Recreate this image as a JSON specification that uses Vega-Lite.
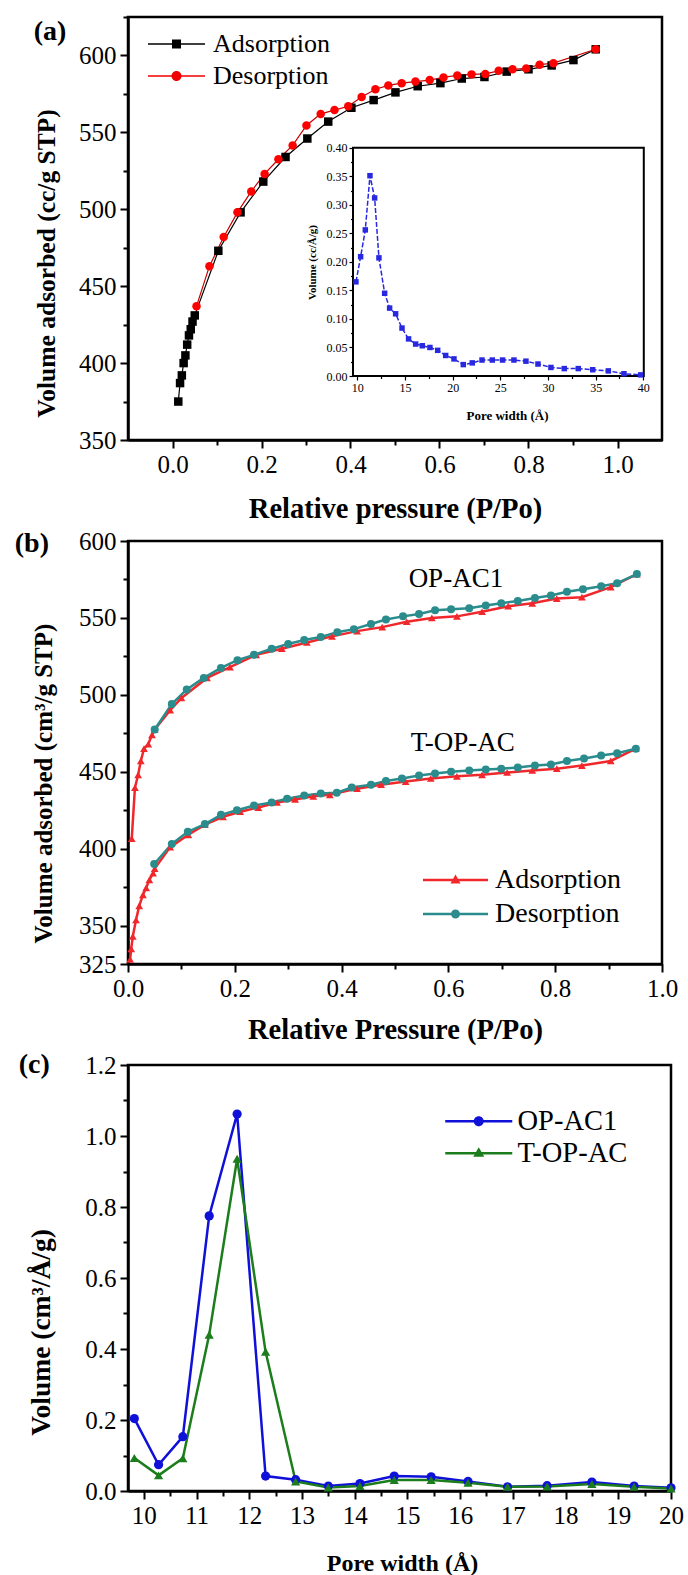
{
"$schema": "https://vega.github.io/schema/vega-lite/v6.json",
"background": "white",
"padding": {"left": 13, "top": 14, "right": 0, "bottom": 0},
"datasets": {
"iso_a": [
{"p":0.013,"v":375,"type":"Adsorption"},{"p":0.017,"v":387,"type":"Adsorption"},{"p":0.021,"v":392,"type":"Adsorption"},{"p":0.025,"v":400,"type":"Adsorption"},{"p":0.029,"v":405,"type":"Adsorption"},{"p":0.033,"v":412,"type":"Adsorption"},{"p":0.037,"v":418,"type":"Adsorption"},{"p":0.041,"v":422,"type":"Adsorption"},{"p":0.045,"v":427,"type":"Adsorption"},{"p":0.05,"v":431,"type":"Adsorption"},{"p":0.103,"v":473,"type":"Adsorption"},{"p":0.153,"v":498,"type":"Adsorption"},{"p":0.204,"v":518,"type":"Adsorption"},{"p":0.254,"v":534,"type":"Adsorption"},{"p":0.303,"v":546,"type":"Adsorption"},{"p":0.35,"v":557,"type":"Adsorption"},{"p":0.402,"v":566,"type":"Adsorption"},{"p":0.452,"v":571,"type":"Adsorption"},{"p":0.501,"v":576,"type":"Adsorption"},{"p":0.551,"v":580,"type":"Adsorption"},{"p":0.602,"v":582,"type":"Adsorption"},{"p":0.65,"v":585,"type":"Adsorption"},{"p":0.701,"v":586,"type":"Adsorption"},{"p":0.751,"v":589.5,"type":"Adsorption"},{"p":0.8,"v":591,"type":"Adsorption"},{"p":0.852,"v":593.5,"type":"Adsorption"},{"p":0.901,"v":597,"type":"Adsorption"},{"p":0.951,"v":604,"type":"Adsorption"},
{"p":0.054,"v":437,"type":"Desorption"},{"p":0.083,"v":463,"type":"Desorption"},{"p":0.115,"v":482,"type":"Desorption"},{"p":0.146,"v":498,"type":"Desorption"},{"p":0.177,"v":511.6,"type":"Desorption"},{"p":0.207,"v":523,"type":"Desorption"},{"p":0.238,"v":532.5,"type":"Desorption"},{"p":0.27,"v":541.5,"type":"Desorption"},{"p":0.301,"v":554.5,"type":"Desorption"},{"p":0.333,"v":562,"type":"Desorption"},{"p":0.364,"v":564.5,"type":"Desorption"},{"p":0.395,"v":567,"type":"Desorption"},{"p":0.425,"v":573,"type":"Desorption"},{"p":0.456,"v":578,"type":"Desorption"},{"p":0.485,"v":580.5,"type":"Desorption"},{"p":0.515,"v":582,"type":"Desorption"},{"p":0.546,"v":583,"type":"Desorption"},{"p":0.578,"v":584,"type":"Desorption"},{"p":0.609,"v":585.7,"type":"Desorption"},{"p":0.64,"v":587,"type":"Desorption"},{"p":0.672,"v":587.7,"type":"Desorption"},{"p":0.703,"v":588,"type":"Desorption"},{"p":0.733,"v":590,"type":"Desorption"},{"p":0.764,"v":591,"type":"Desorption"},{"p":0.795,"v":591.6,"type":"Desorption"},{"p":0.825,"v":594,"type":"Desorption"},{"p":0.856,"v":595,"type":"Desorption"},{"p":0.951,"v":604,"type":"Desorption"}
],
"psd_a": [
{"w":9.86,"v":0.165},{"w":10.35,"v":0.209},{"w":10.84,"v":0.256},{"w":11.33,"v":0.351},{"w":11.82,"v":0.312},{"w":12.27,"v":0.207},{"w":12.87,"v":0.145},{"w":13.39,"v":0.119},{"w":14.02,"v":0.109},{"w":14.69,"v":0.084},{"w":15.38,"v":0.065},{"w":16.12,"v":0.056},{"w":16.82,"v":0.053},{"w":17.62,"v":0.05},{"w":18.43,"v":0.045},{"w":19.27,"v":0.036},{"w":20.14,"v":0.03},{"w":21.12,"v":0.02},{"w":22.06,"v":0.023},{"w":23.08,"v":0.028},{"w":24.16,"v":0.028},{"w":25.24,"v":0.028},{"w":26.43,"v":0.028},{"w":27.69,"v":0.026},{"w":28.95,"v":0.021},{"w":30.31,"v":0.015},{"w":31.71,"v":0.013},{"w":33.18,"v":0.013},{"w":34.69,"v":0.011},{"w":36.33,"v":0.009},{"w":37.97,"v":0.004},{"w":39.72,"v":0.002}
],
"iso_b": [
{"p":0.004,"v":328,"type":"Adsorption","sample":"T-OP-AC"},{"p":0.006,"v":334.8,"type":"Adsorption","sample":"T-OP-AC"},{"p":0.009,"v":343,"type":"Adsorption","sample":"T-OP-AC"},{"p":0.015,"v":353.6,"type":"Adsorption","sample":"T-OP-AC"},{"p":0.021,"v":362.8,"type":"Adsorption","sample":"T-OP-AC"},{"p":0.028,"v":370,"type":"Adsorption","sample":"T-OP-AC"},{"p":0.034,"v":374.5,"type":"Adsorption","sample":"T-OP-AC"},{"p":0.04,"v":379.7,"type":"Adsorption","sample":"T-OP-AC"},{"p":0.047,"v":384,"type":"Adsorption","sample":"T-OP-AC"},{"p":0.05,"v":387,"type":"Adsorption","sample":"T-OP-AC"},{"p":0.079,"v":401,"type":"Adsorption","sample":"T-OP-AC"},{"p":0.113,"v":409,"type":"Adsorption","sample":"T-OP-AC"},{"p":0.144,"v":415.6,"type":"Adsorption","sample":"T-OP-AC"},{"p":0.178,"v":420.7,"type":"Adsorption","sample":"T-OP-AC"},{"p":0.21,"v":424,"type":"Adsorption","sample":"T-OP-AC"},{"p":0.244,"v":426.7,"type":"Adsorption","sample":"T-OP-AC"},{"p":0.279,"v":430,"type":"Adsorption","sample":"T-OP-AC"},{"p":0.313,"v":432,"type":"Adsorption","sample":"T-OP-AC"},{"p":0.347,"v":434,"type":"Adsorption","sample":"T-OP-AC"},{"p":0.378,"v":435,"type":"Adsorption","sample":"T-OP-AC"},{"p":0.429,"v":439,"type":"Adsorption","sample":"T-OP-AC"},{"p":0.474,"v":441.6,"type":"Adsorption","sample":"T-OP-AC"},{"p":0.52,"v":443.6,"type":"Adsorption","sample":"T-OP-AC"},{"p":0.567,"v":445.6,"type":"Adsorption","sample":"T-OP-AC"},{"p":0.616,"v":447,"type":"Adsorption","sample":"T-OP-AC"},{"p":0.663,"v":448,"type":"Adsorption","sample":"T-OP-AC"},{"p":0.71,"v":449.5,"type":"Adsorption","sample":"T-OP-AC"},{"p":0.757,"v":450.8,"type":"Adsorption","sample":"T-OP-AC"},{"p":0.803,"v":452,"type":"Adsorption","sample":"T-OP-AC"},{"p":0.85,"v":454,"type":"Adsorption","sample":"T-OP-AC"},{"p":0.904,"v":457,"type":"Adsorption","sample":"T-OP-AC"},{"p":0.951,"v":465,"type":"Adsorption","sample":"T-OP-AC"},
{"p":0.007,"v":406.5,"type":"Adsorption","sample":"OP-AC1"},{"p":0.013,"v":439.7,"type":"Adsorption","sample":"OP-AC1"},{"p":0.019,"v":448,"type":"Adsorption","sample":"OP-AC1"},{"p":0.024,"v":457,"type":"Adsorption","sample":"OP-AC1"},{"p":0.03,"v":465,"type":"Adsorption","sample":"OP-AC1"},{"p":0.038,"v":468,"type":"Adsorption","sample":"OP-AC1"},{"p":0.045,"v":474,"type":"Adsorption","sample":"OP-AC1"},{"p":0.05,"v":477.5,"type":"Adsorption","sample":"OP-AC1"},{"p":0.079,"v":490,"type":"Adsorption","sample":"OP-AC1"},{"p":0.1,"v":498,"type":"Adsorption","sample":"OP-AC1"},{"p":0.148,"v":511,"type":"Adsorption","sample":"OP-AC1"},{"p":0.191,"v":518,"type":"Adsorption","sample":"OP-AC1"},{"p":0.24,"v":526,"type":"Adsorption","sample":"OP-AC1"},{"p":0.288,"v":530,"type":"Adsorption","sample":"OP-AC1"},{"p":0.335,"v":534,"type":"Adsorption","sample":"OP-AC1"},{"p":0.382,"v":538,"type":"Adsorption","sample":"OP-AC1"},{"p":0.429,"v":541.4,"type":"Adsorption","sample":"OP-AC1"},{"p":0.476,"v":544,"type":"Adsorption","sample":"OP-AC1"},{"p":0.522,"v":547.5,"type":"Adsorption","sample":"OP-AC1"},{"p":0.569,"v":550,"type":"Adsorption","sample":"OP-AC1"},{"p":0.616,"v":551,"type":"Adsorption","sample":"OP-AC1"},{"p":0.663,"v":554,"type":"Adsorption","sample":"OP-AC1"},{"p":0.712,"v":557.6,"type":"Adsorption","sample":"OP-AC1"},{"p":0.757,"v":559.5,"type":"Adsorption","sample":"OP-AC1"},{"p":0.803,"v":562.6,"type":"Adsorption","sample":"OP-AC1"},{"p":0.85,"v":563.5,"type":"Adsorption","sample":"OP-AC1"},{"p":0.904,"v":570,"type":"Adsorption","sample":"OP-AC1"},{"p":0.953,"v":578.5,"type":"Adsorption","sample":"OP-AC1"},
{"p":0.049,"v":390,"type":"Desorption","sample":"T-OP-AC"},{"p":0.082,"v":403,"type":"Desorption","sample":"T-OP-AC"},{"p":0.112,"v":411,"type":"Desorption","sample":"T-OP-AC"},{"p":0.144,"v":416,"type":"Desorption","sample":"T-OP-AC"},{"p":0.174,"v":422,"type":"Desorption","sample":"T-OP-AC"},{"p":0.204,"v":425,"type":"Desorption","sample":"T-OP-AC"},{"p":0.236,"v":428,"type":"Desorption","sample":"T-OP-AC"},{"p":0.269,"v":430,"type":"Desorption","sample":"T-OP-AC"},{"p":0.298,"v":432.5,"type":"Desorption","sample":"T-OP-AC"},{"p":0.33,"v":434.5,"type":"Desorption","sample":"T-OP-AC"},{"p":0.361,"v":435.8,"type":"Desorption","sample":"T-OP-AC"},{"p":0.391,"v":436.4,"type":"Desorption","sample":"T-OP-AC"},{"p":0.419,"v":439.7,"type":"Desorption","sample":"T-OP-AC"},{"p":0.455,"v":441.6,"type":"Desorption","sample":"T-OP-AC"},{"p":0.483,"v":444,"type":"Desorption","sample":"T-OP-AC"},{"p":0.513,"v":445.6,"type":"Desorption","sample":"T-OP-AC"},{"p":0.545,"v":447.5,"type":"Desorption","sample":"T-OP-AC"},{"p":0.575,"v":448.8,"type":"Desorption","sample":"T-OP-AC"},{"p":0.605,"v":450,"type":"Desorption","sample":"T-OP-AC"},{"p":0.639,"v":450.8,"type":"Desorption","sample":"T-OP-AC"},{"p":0.67,"v":451.4,"type":"Desorption","sample":"T-OP-AC"},{"p":0.699,"v":452,"type":"Desorption","sample":"T-OP-AC"},{"p":0.73,"v":452.7,"type":"Desorption","sample":"T-OP-AC"},{"p":0.762,"v":454,"type":"Desorption","sample":"T-OP-AC"},{"p":0.792,"v":454.7,"type":"Desorption","sample":"T-OP-AC"},{"p":0.822,"v":457,"type":"Desorption","sample":"T-OP-AC"},{"p":0.854,"v":458.6,"type":"Desorption","sample":"T-OP-AC"},{"p":0.886,"v":460.5,"type":"Desorption","sample":"T-OP-AC"},{"p":0.916,"v":462,"type":"Desorption","sample":"T-OP-AC"},{"p":0.951,"v":465,"type":"Desorption","sample":"T-OP-AC"},
{"p":0.05,"v":477.5,"type":"Desorption","sample":"OP-AC1"},{"p":0.082,"v":494,"type":"Desorption","sample":"OP-AC1"},{"p":0.11,"v":503.5,"type":"Desorption","sample":"OP-AC1"},{"p":0.142,"v":511,"type":"Desorption","sample":"OP-AC1"},{"p":0.174,"v":517.5,"type":"Desorption","sample":"OP-AC1"},{"p":0.205,"v":522.5,"type":"Desorption","sample":"OP-AC1"},{"p":0.236,"v":526,"type":"Desorption","sample":"OP-AC1"},{"p":0.269,"v":530,"type":"Desorption","sample":"OP-AC1"},{"p":0.3,"v":533,"type":"Desorption","sample":"OP-AC1"},{"p":0.33,"v":535.6,"type":"Desorption","sample":"OP-AC1"},{"p":0.361,"v":537.6,"type":"Desorption","sample":"OP-AC1"},{"p":0.392,"v":540.7,"type":"Desorption","sample":"OP-AC1"},{"p":0.423,"v":542.7,"type":"Desorption","sample":"OP-AC1"},{"p":0.455,"v":546,"type":"Desorption","sample":"OP-AC1"},{"p":0.483,"v":549,"type":"Desorption","sample":"OP-AC1"},{"p":0.515,"v":551,"type":"Desorption","sample":"OP-AC1"},{"p":0.545,"v":552.5,"type":"Desorption","sample":"OP-AC1"},{"p":0.575,"v":555,"type":"Desorption","sample":"OP-AC1"},{"p":0.605,"v":555.6,"type":"Desorption","sample":"OP-AC1"},{"p":0.639,"v":556.3,"type":"Desorption","sample":"OP-AC1"},{"p":0.67,"v":558,"type":"Desorption","sample":"OP-AC1"},{"p":0.699,"v":559.5,"type":"Desorption","sample":"OP-AC1"},{"p":0.73,"v":561,"type":"Desorption","sample":"OP-AC1"},{"p":0.762,"v":563,"type":"Desorption","sample":"OP-AC1"},{"p":0.792,"v":564.6,"type":"Desorption","sample":"OP-AC1"},{"p":0.822,"v":567,"type":"Desorption","sample":"OP-AC1"},{"p":0.852,"v":568.6,"type":"Desorption","sample":"OP-AC1"},{"p":0.886,"v":570.6,"type":"Desorption","sample":"OP-AC1"},{"p":0.916,"v":572.6,"type":"Desorption","sample":"OP-AC1"},{"p":0.953,"v":578.5,"type":"Desorption","sample":"OP-AC1"}
],
"psd_c": [
{"w":9.82,"v":0.204,"sample":"OP-AC1"},{"w":10.28,"v":0.074,"sample":"OP-AC1"},{"w":10.74,"v":0.153,"sample":"OP-AC1"},{"w":11.24,"v":0.775,"sample":"OP-AC1"},{"w":11.77,"v":1.062,"sample":"OP-AC1"},{"w":12.31,"v":0.042,"sample":"OP-AC1"},{"w":12.88,"v":0.032,"sample":"OP-AC1"},{"w":13.5,"v":0.014,"sample":"OP-AC1"},{"w":14.1,"v":0.021,"sample":"OP-AC1"},{"w":14.75,"v":0.042,"sample":"OP-AC1"},{"w":15.45,"v":0.04,"sample":"OP-AC1"},{"w":16.15,"v":0.027,"sample":"OP-AC1"},{"w":16.9,"v":0.012,"sample":"OP-AC1"},{"w":17.65,"v":0.015,"sample":"OP-AC1"},{"w":18.5,"v":0.025,"sample":"OP-AC1"},{"w":19.3,"v":0.014,"sample":"OP-AC1"},{"w":20.0,"v":0.009,"sample":"OP-AC1"},
{"w":9.82,"v":0.093,"sample":"T-OP-AC"},{"w":10.28,"v":0.044,"sample":"T-OP-AC"},{"w":10.74,"v":0.092,"sample":"T-OP-AC"},{"w":11.24,"v":0.44,"sample":"T-OP-AC"},{"w":11.77,"v":0.936,"sample":"T-OP-AC"},{"w":12.31,"v":0.392,"sample":"T-OP-AC"},{"w":12.88,"v":0.027,"sample":"T-OP-AC"},{"w":13.5,"v":0.01,"sample":"T-OP-AC"},{"w":14.1,"v":0.014,"sample":"T-OP-AC"},{"w":14.75,"v":0.031,"sample":"T-OP-AC"},{"w":15.45,"v":0.031,"sample":"T-OP-AC"},{"w":16.15,"v":0.023,"sample":"T-OP-AC"},{"w":16.9,"v":0.012,"sample":"T-OP-AC"},{"w":17.65,"v":0.013,"sample":"T-OP-AC"},{"w":18.5,"v":0.02,"sample":"T-OP-AC"},{"w":19.3,"v":0.012,"sample":"T-OP-AC"},{"w":20.0,"v":0.007,"sample":"T-OP-AC"}
]
},
"vconcat": [
{
"width": 534, "height": 423,
"layer": [
{
"data": {"name": "iso_a"},
"layer": [
{"mark": {"type": "line", "strokeWidth": 1.2},
"encoding": {
"x": {"field": "p", "type": "quantitative", "scale": {"domain": [-0.1, 1.1], "nice": false, "zero": false},
"axis": {"orient": "bottom", "values": [0,0.2,0.4,0.6,0.8,1.0], "format": ".1f", "tickSize": 8, "labelPadding": 4,
"title": "Relative pressure (P/Po)", "titleFontSize": 28.5, "titleX": 267, "titleY": 68}},
"y": {"field": "v", "type": "quantitative", "scale": {"domain": [350, 625], "nice": false, "zero": false},
"axis": {"orient": "left", "values": [350,400,450,500,550,600], "format": "d", "tickSize": 8,
"title": "Volume adsorbed (cc/g STP)", "titleFontSize": 25.5, "titleX": -82, "titleY": 246, "titleAngle": -90}},
"color": {"field": "type", "type": "nominal", "scale": {"domain": ["Adsorption", "Desorption"], "range": ["#000000", "#c40000"]}, "legend": null}
}},
{"mark": {"type": "point", "filled": true, "opacity": 1, "size": 72},
"encoding": {
"x": {"field": "p", "type": "quantitative", "axis": null},
"y": {"field": "v", "type": "quantitative", "axis": null},
"shape": {"field": "type", "type": "nominal", "scale": {"domain": ["Adsorption", "Desorption"], "range": ["square", "circle"]}, "legend": null},
"fill": {"field": "type", "type": "nominal", "scale": {"domain": ["Adsorption", "Desorption"], "range": ["#000000", "#ff0000"]}, "legend": null}
}},
{"data": {"values": [{}]}, "mark": {"type": "text", "text": "(a)", "fontSize": 28, "fontWeight": "bold", "align": "center", "baseline": "middle"},
"encoding": {"x": {"datum": -0.275, "type": "quantitative", "axis": null}, "y": {"datum": 615, "type": "quantitative", "axis": null}}},
{"data": {"values": [{}]}, "mark": {"type": "point", "filled": true, "fill": "#000000", "color": "#000000", "size": 100, "clip": true, "opacity": 1},
"encoding": {"x": {"datum": -5, "type": "quantitative", "axis": null}, "y": {"datum": 0, "type": "quantitative", "axis": null},
"shape": {"datum": "Adsorption", "type": "nominal", "scale": {"domain": ["Adsorption"], "range": ["M -5.7 -0.13 L 5.7 -0.13 L 5.7 0.13 L -5.7 0.13 Z M -0.9 -0.9 L 0.9 -0.9 L 0.9 0.9 L -0.9 0.9 Z"]},
"legend": {"orient": "none", "legendX": 35.5, "legendY": 14, "title": null, "padding": 0, "symbolSize": 100, "symbolOffset": 0, "symbolStrokeWidth": 0, "labelOffset": 23.5, "labelFontSize": 26}}}},
{"data": {"values": [{}]}, "mark": {"type": "point", "filled": true, "fill": "#f00000", "color": "#f00000", "size": 100, "clip": true, "opacity": 1},
"encoding": {"x": {"datum": -5, "type": "quantitative", "axis": null}, "y": {"datum": 0, "type": "quantitative", "axis": null},
"shape": {"datum": "Desorption", "type": "nominal", "scale": {"domain": ["Desorption"], "range": ["M -5.7 -0.13 L 5.7 -0.13 L 5.7 0.13 L -5.7 0.13 Z M -1 0 A 1 1 0 1 1 1 0 A 1 1 0 1 1 -1 0 Z"]},
"legend": {"orient": "none", "legendX": 35.5, "legendY": 46, "title": null, "padding": 0, "symbolSize": 100, "symbolOffset": 0, "symbolStrokeWidth": 0, "labelOffset": 23.5, "labelFontSize": 26}}}}
],
"resolve": {"scale": {"shape": "independent", "fill": "independent"}, "axis": {"x": "independent", "y": "independent"}}
},
{
"data": {"name": "iso_a"},
"mark": {"type": "point", "opacity": 0},
"encoding": {
"x": {"field": "p", "type": "quantitative", "scale": {"domain": [-0.1, 1.1], "nice": false, "zero": false},
"axis": {"orient": "bottom", "values": [0.1,0.3,0.5,0.7,0.9], "labels": false, "tickSize": 5, "domain": false, "title": null}},
"y": {"field": "v", "type": "quantitative", "scale": {"domain": [350, 625], "nice": false, "zero": false},
"axis": {"orient": "left", "values": [375,425,475,525,575,625], "labels": false, "tickSize": 5, "domain": false, "title": null}}
}
},
{
"data": {"name": "psd_a"},
"layer": [
{"data": {"values": [{}]}, "mark": {"type": "rect", "fill": "white", "stroke": "black", "strokeWidth": 2},
"encoding": {
"x": {"datum": 9.55, "type": "quantitative", "scale": {"domain": [-14.05, 41.96], "nice": false, "zero": false}, "axis": null},
"x2": {"datum": 40.05},
"y": {"datum": 0, "type": "quantitative", "scale": {"domain": [-0.1121, 0.629], "nice": false, "zero": false}, "axis": null},
"y2": {"datum": 0.4}}},
{"mark": {"type": "line", "color": "#2828e0", "strokeWidth": 1.5, "strokeDash": [5, 2]},
"encoding": {
"x": {"field": "w", "type": "quantitative", "scale": {"domain": [-14.05, 41.96], "nice": false, "zero": false},
"axis": {"orient": "bottom", "offset": -64, "domain": false, "values": [10,15,20,25,30,35,40], "format": "d",
"tickSize": 4, "tickWidth": 1.2, "labelFontSize": 12, "labelPadding": 2,
"title": "Pore width (Å)", "titleFontSize": 13, "titleX": 379, "titleY": 39}},
"y": {"field": "v", "type": "quantitative", "scale": {"domain": [-0.1121, 0.629], "nice": false, "zero": false},
"axis": {"orient": "left", "offset": -225, "domain": false, "values": [0,0.05,0.1,0.15,0.2,0.25,0.3,0.35,0.4], "format": ".2f",
"tickSize": 4, "tickWidth": 1.2, "labelFontSize": 12, "labelPadding": 2,
"title": "Volume (cc/Å/g)", "titleFontSize": 11, "titleX": -41, "titleY": 245, "titleAngle": -90}}
}},
{"mark": {"type": "point", "shape": "square", "filled": true, "size": 30, "color": "#2828e0", "opacity": 1},
"encoding": {
"x": {"field": "w", "type": "quantitative", "axis": {"orient": "bottom", "offset": -64, "domain": false, "values": [12.5,17.5,22.5,27.5,32.5,37.5], "labels": false, "tickSize": 2.5, "tickWidth": 1.2, "title": null}},
"y": {"field": "v", "type": "quantitative", "axis": {"orient": "left", "offset": -225, "domain": false, "values": [0.025,0.075,0.125,0.175,0.225,0.275,0.325,0.375], "labels": false, "tickSize": 2.5, "tickWidth": 1.2, "title": null}}}}
],
"resolve": {"axis": {"x": "independent", "y": "independent"}}
}
],
"resolve": {"scale": {"x": "independent", "y": "independent"}}
},
{
"width": 534, "height": 423,
"data": {"name": "iso_b"},
"layer": [
{"mark": {"type": "line", "strokeWidth": 2.5},
"encoding": {
"x": {"field": "p", "type": "quantitative", "scale": {"domain": [0, 1], "nice": false, "zero": false},
"axis": {"orient": "bottom", "values": [0,0.2,0.4,0.6,0.8,1.0], "format": ".1f", "tickSize": 8, "labelPadding": 4,
"title": "Relative Pressure (P/Po)", "titleFontSize": 28.5, "titleX": 267, "titleY": 65}},
"y": {"field": "v", "type": "quantitative", "scale": {"domain": [325, 600], "nice": false, "zero": false},
"axis": {"orient": "left", "values": [325,350,400,450,500,550,600], "format": "d", "tickSize": 8,
"title": "Volume adsorbed (cm³/g STP)", "titleFontSize": 25, "titleX": -85, "titleY": 242, "titleAngle": -90}},
"detail": {"field": "sample", "type": "nominal"},
"color": {"field": "type", "type": "nominal", "scale": {"domain": ["Adsorption", "Desorption"], "range": ["#f0282c", "#2a8c8c"]}, "legend": null}
}},
{"mark": {"type": "point", "filled": true, "opacity": 1},
"encoding": {
"x": {"field": "p", "type": "quantitative", "axis": {"orient": "bottom", "values": [0.1,0.3,0.5,0.7,0.9], "labels": false, "tickSize": 5, "domain": false, "title": null}},
"y": {"field": "v", "type": "quantitative", "axis": {"orient": "left", "values": [375,425,475,525,575], "labels": false, "tickSize": 5, "domain": false, "title": null}},
"shape": {"field": "type", "type": "nominal", "scale": {"domain": ["Adsorption", "Desorption"], "range": ["triangle-up", "circle"]}, "legend": null},
"size": {"field": "type", "type": "nominal", "scale": {"domain": ["Adsorption", "Desorption"], "range": [60, 64]}, "legend": null},
"fill": {"field": "type", "type": "nominal", "scale": {"domain": ["Adsorption", "Desorption"], "range": ["#f0282c", "#2a8c8c"]}, "legend": null}
}},
{"data": {"values": [{}]}, "mark": {"type": "text", "text": "(b)", "fontSize": 28, "fontWeight": "bold", "align": "center", "baseline": "middle"},
"encoding": {"x": {"datum": -0.18, "type": "quantitative", "axis": null}, "y": {"datum": 598, "type": "quantitative", "axis": null}}},
{"data": {"values": [{}]}, "mark": {"type": "text", "text": "OP-AC1", "fontSize": 27, "align": "center", "baseline": "middle"},
"encoding": {"x": {"datum": 0.614, "type": "quantitative", "axis": null}, "y": {"datum": 575.2, "type": "quantitative", "axis": null}}},
{"data": {"values": [{}]}, "mark": {"type": "text", "text": "T-OP-AC", "fontSize": 27, "align": "center", "baseline": "middle"},
"encoding": {"x": {"datum": 0.627, "type": "quantitative", "axis": null}, "y": {"datum": 468.4, "type": "quantitative", "axis": null}}},
{"data": {"values": [{}]}, "mark": {"type": "point", "filled": true, "fill": "#f0282c", "color": "#f0282c", "size": 100, "clip": true, "opacity": 1},
"encoding": {"x": {"datum": -5, "type": "quantitative", "axis": null}, "y": {"datum": 0, "type": "quantitative", "axis": null},
"shape": {"datum": "Adsorption", "type": "nominal", "scale": {"domain": ["Adsorption"], "range": ["M -6.5 -0.25 L 6.5 -0.25 L 6.5 0.25 L -6.5 0.25 Z M 0 -1.1 L 1 0.7 L -1 0.7 Z"]},
"legend": {"orient": "none", "legendX": 313.5, "legendY": 325, "title": null, "padding": 0, "symbolSize": 100, "symbolOffset": 0, "symbolStrokeWidth": 0, "labelOffset": 25.5, "labelFontSize": 28}}}},
{"data": {"values": [{}]}, "mark": {"type": "point", "filled": true, "fill": "#2a8c8c", "color": "#2a8c8c", "size": 100, "clip": true, "opacity": 1},
"encoding": {"x": {"datum": -5, "type": "quantitative", "axis": null}, "y": {"datum": 0, "type": "quantitative", "axis": null},
"shape": {"datum": "Desorption", "type": "nominal", "scale": {"domain": ["Desorption"], "range": ["M -6.5 -0.25 L 6.5 -0.25 L 6.5 0.25 L -6.5 0.25 Z M -0.9 0 A 0.9 0.9 0 1 1 0.9 0 A 0.9 0.9 0 1 1 -0.9 0 Z"]},
"legend": {"orient": "none", "legendX": 313.5, "legendY": 359, "title": null, "padding": 0, "symbolSize": 100, "symbolOffset": 0, "symbolStrokeWidth": 0, "labelOffset": 25.5, "labelFontSize": 28}}}}
],
"resolve": {"scale": {"shape": "independent"}, "axis": {"x": "independent", "y": "independent"}}
},
{
"width": 543, "height": 426,
"data": {"name": "psd_c"},
"layer": [
{"mark": {"type": "line", "strokeWidth": 2.5},
"encoding": {
"x": {"field": "w", "type": "quantitative", "scale": {"domain": [9.7, 20], "nice": false, "zero": false},
"axis": {"orient": "bottom", "values": [10,11,12,13,14,15,16,17,18,19,20], "format": "d", "tickSize": 8, "labelPadding": 4,
"title": "Pore width (Å)", "titleFontSize": 24, "titleX": 274, "titleY": 72}},
"y": {"field": "v", "type": "quantitative", "scale": {"domain": [0, 1.2], "nice": false, "zero": false},
"axis": {"orient": "left", "values": [0,0.2,0.4,0.6,0.8,1.0,1.2], "format": ".1f", "tickSize": 8,
"title": "Volume (cm³/Å/g)", "titleFontSize": 27.5, "titleX": -87, "titleY": 267, "titleAngle": -90}},
"color": {"field": "sample", "type": "nominal", "scale": {"domain": ["OP-AC1", "T-OP-AC"], "range": ["#0f10d8", "#1c7d1c"]}, "legend": null}
}},
{"mark": {"type": "point", "filled": true, "opacity": 1},
"encoding": {
"x": {"field": "w", "type": "quantitative", "axis": {"orient": "bottom", "values": [10.5,11.5,12.5,13.5,14.5,15.5,16.5,17.5,18.5,19.5], "labels": false, "tickSize": 5, "domain": false, "title": null}},
"y": {"field": "v", "type": "quantitative", "axis": {"orient": "left", "values": [0.1,0.3,0.5,0.7,0.9,1.1], "labels": false, "tickSize": 5, "domain": false, "title": null}},
"shape": {"field": "sample", "type": "nominal", "scale": {"domain": ["OP-AC1", "T-OP-AC"], "range": ["circle", "triangle-up"]}, "legend": null},
"size": {"field": "sample", "type": "nominal", "scale": {"domain": ["OP-AC1", "T-OP-AC"], "range": [85, 85]}, "legend": null},
"fill": {"field": "sample", "type": "nominal", "scale": {"domain": ["OP-AC1", "T-OP-AC"], "range": ["#0f10d8", "#1c7d1c"]}, "legend": null}
}},
{"data": {"values": [{}]}, "mark": {"type": "text", "text": "(c)", "fontSize": 28, "fontWeight": "bold", "align": "center", "baseline": "middle"},
"encoding": {"x": {"datum": 7.92, "type": "quantitative", "axis": null}, "y": {"datum": 1.2, "type": "quantitative", "axis": null}}},
{"data": {"values": [{}]}, "mark": {"type": "point", "filled": true, "fill": "#0f10d8", "color": "#0f10d8", "size": 100, "clip": true, "opacity": 1},
"encoding": {"x": {"datum": 0, "type": "quantitative", "axis": null}, "y": {"datum": -1, "type": "quantitative", "axis": null},
"shape": {"datum": "OP-AC1", "type": "nominal", "scale": {"domain": ["OP-AC1"], "range": ["M -6.7 -0.25 L 6.7 -0.25 L 6.7 0.25 L -6.7 0.25 Z M -1 0 A 1 1 0 1 1 1 0 A 1 1 0 1 1 -1 0 Z"]},
"legend": {"orient": "none", "legendX": 336.5, "legendY": 42, "title": null, "padding": 0, "symbolSize": 100, "symbolOffset": 0, "symbolStrokeWidth": 0, "labelOffset": 24.5, "labelFontSize": 28.5}}}},
{"data": {"values": [{}]}, "mark": {"type": "point", "filled": true, "fill": "#1c7d1c", "color": "#1c7d1c", "size": 100, "clip": true, "opacity": 1},
"encoding": {"x": {"datum": 0, "type": "quantitative", "axis": null}, "y": {"datum": -1, "type": "quantitative", "axis": null},
"shape": {"datum": "T-OP-AC", "type": "nominal", "scale": {"domain": ["T-OP-AC"], "range": ["M -6.7 -0.25 L 6.7 -0.25 L 6.7 0.25 L -6.7 0.25 Z M 0 -1.2 L 1.1 0.7 L -1.1 0.7 Z"]},
"legend": {"orient": "none", "legendX": 336.5, "legendY": 74, "title": null, "padding": 0, "symbolSize": 100, "symbolOffset": 0, "symbolStrokeWidth": 0, "labelOffset": 24.5, "labelFontSize": 28.5}}}}
],
"resolve": {"scale": {"shape": "independent"}, "axis": {"x": "independent", "y": "independent"}}
}
],
"spacing": 101,
"bounds": "flush",
"resolve": {"scale": {"color": "independent", "fill": "independent", "shape": "independent", "size": "independent"}},
"config": {
"font": "Liberation Serif",
"view": {"stroke": "black", "strokeWidth": 2.5},
"axis": {"grid": false, "domainColor": "black", "domainWidth": 2.5, "tickColor": "black", "tickWidth": 2,
"labelColor": "black", "labelFontSize": 25, "labelFont": "Liberation Serif", "labelPadding": 4, "labelFlush": false, "labelOverlap": false, "labelBound": false,
"titleFont": "Liberation Serif", "titleFontSize": 27, "titleFontWeight": "bold", "titleColor": "black", "titleAlign": "center", "titleBaseline": "middle"},
"legend": {"labelFont": "Liberation Serif", "labelColor": "black", "labelFontSize": 26},
"text": {"font": "Liberation Serif", "color": "black"}
}
}
